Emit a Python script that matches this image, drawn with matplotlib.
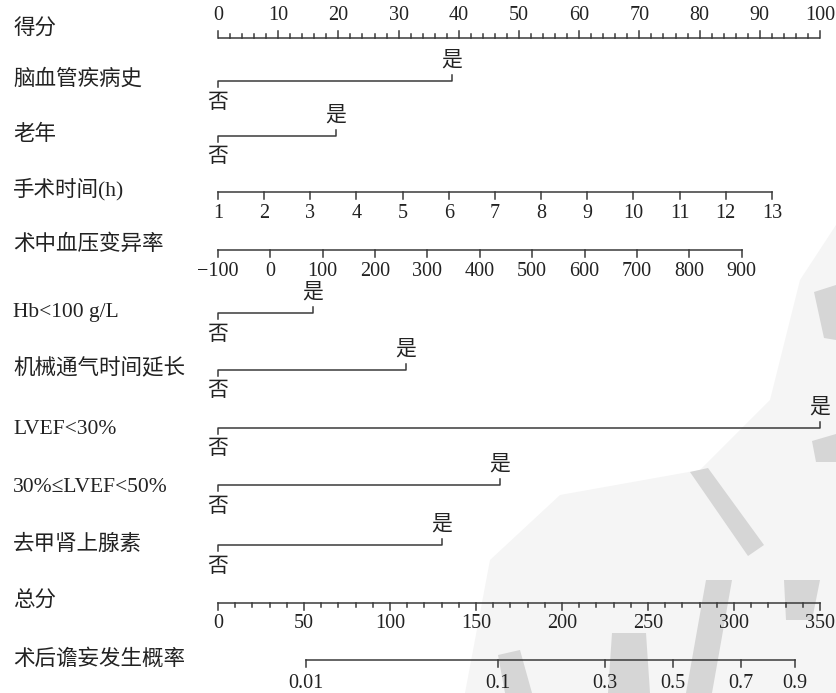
import matplotlib
matplotlib.use("Agg")
import matplotlib.pyplot as plt
import numpy as np

plt.rcParams['font.family'] = ['Liberation Serif', 'Noto Sans CJK SC']

# ---- data -------------------------------------------------------------
row_labels = ["得分", "脑血管疾病史", "老年", "手术时间(h)", "术中血压变异率",
              "Hb<100 g/L", "机械通气时间延长", "LVEF<30%", "30%≤LVEF<50%",
              "去甲肾上腺素", "总分", "术后谵妄发生概率"]

points_ticks = list(range(0, 101, 10))

# binary predictors: points for "是" (the "否" level scores 0)
binary_rows = [1, 2, 5, 6, 7, 8, 9]
binary_points = [38.8, 19.6, 15.8, 31.2, 100.0, 46.8, 37.2]
no_label, yes_label = "否", "是"

# operation time (h)
hours_ticks = list(range(1, 14))
hours_max_points = 92.0

# intraoperative blood pressure variability
bpv_ticks = list(range(-100, 901, 100))
bpv_max_points = 87.0

# total points
total_ticks = list(range(0, 351, 50))
total_max = 350

# risk of postoperative delirium and the total points at each tick
prob_ticks = [0.01, 0.1, 0.3, 0.5, 0.7, 0.9]
prob_tick_total = [51.2, 162.8, 225.0, 264.4, 303.9, 335.2]

# ---- layout -----------------------------------------------------------
W, H = 836, 693
px_per_pt = 6.02
x0_px = 218
row_y = [38, 81, 136, 192, 250, 313, 370, 428, 485, 545, 603, 660]
label_y = [30, 80, 135, 189, 245, 312, 369, 429, 487, 545, 602, 660]

fig = plt.figure(figsize=(W / 100, H / 100), dpi=100)
ax = fig.add_axes([0, 0, 1, 1])
ax.set_xlim(-x0_px / px_per_pt, (W - x0_px) / px_per_pt)
ax.set_ylim(H, 0)
ax.set_axis_off()

LC = "#3a3a3a"
TC = "#222222"
LW = 1.1
FS_NUM = 14.5
FS_CJK = 15
FS_LAB = 15.5


def px(x):
    """pixel column -> points coordinate"""
    return (x - x0_px) / px_per_pt


# faint background brush strokes (publisher watermark)
wm_light = [
    [(836, 225), (800, 280), (770, 400), (700, 470), (560, 495),
     (490, 560), (465, 693), (836, 693)],
]
wm_dark = [
    [(814, 292), (836, 285), (836, 340), (824, 338)],
    [(812, 441), (836, 434), (836, 462), (816, 462)],
    [(690, 472), (708, 468), (764, 545), (748, 556)],
    [(706, 580), (732, 580), (712, 693), (686, 693)],
    [(784, 580), (820, 580), (812, 620), (786, 620)],
    [(498, 655), (520, 650), (532, 693), (505, 693)],
    [(612, 633), (646, 633), (650, 693), (608, 693)],
]
for poly in wm_light:
    xs, ys = zip(*poly)
    ax.fill([px(v) for v in xs], ys, color="#f5f5f5", lw=0, zorder=0)
for poly in wm_dark:
    xs, ys = zip(*poly)
    ax.fill([px(v) for v in xs], ys, color="#d6d6d6", lw=0, zorder=0)

# row labels
for lab, y in zip(row_labels, label_y):
    ax.text(px(13), y, lab, fontsize=FS_LAB, ha="left", va="center", color=TC)

# points scale on top
y = row_y[0]
ax.plot([0, 100], [y, y], color=LC, lw=LW, solid_capstyle="butt")
for v in np.arange(0, 101, 2):
    tl = 7 if v % 10 == 0 else 4
    ax.plot([v, v], [y, y - tl], color=LC, lw=LW)
for v in points_ticks:
    ax.text(v, y - 22, str(v), fontsize=FS_NUM, ha="center", va="center", color=TC)

# binary predictors
for r, p in zip(binary_rows, binary_points):
    y = row_y[r]
    ax.plot([0, 0, p, p], [y + 6, y, y, y - 6], color=LC, lw=LW)
    ax.text(0, y + 22, no_label, fontsize=FS_CJK, ha="center", va="center", color=TC)
    ax.text(p, y - 20, yes_label, fontsize=FS_CJK, ha="center", va="center", color=TC)


def cont_axis(y, values, max_pts, labels):
    lo, hi = values[0], values[-1]
    xs = [(v - lo) / (hi - lo) * max_pts for v in values]
    ax.plot([xs[0], xs[-1]], [y, y], color=LC, lw=LW)
    for x, lab in zip(xs, labels):
        ax.plot([x, x], [y, y + 7], color=LC, lw=LW)
        ax.text(x, y + 22, lab, fontsize=FS_NUM, ha="center", va="center", color=TC)


cont_axis(row_y[3], hours_ticks, hours_max_points, [str(v) for v in hours_ticks])
cont_axis(row_y[4], bpv_ticks, bpv_max_points,
          [("\u2212" + str(-v)) if v < 0 else str(v) for v in bpv_ticks])

# total points scale
y = row_y[10]
scale = 100 / total_max
ax.plot([0, 100], [y, y], color=LC, lw=LW)
for v in range(0, total_max + 1, 10):
    tl = 7 if v % 50 == 0 else 4
    ax.plot([v * scale, v * scale], [y, y + tl], color=LC, lw=LW)
for v in total_ticks:
    ax.text(v * scale, y + 21, str(v), fontsize=FS_NUM, ha="center", va="center", color=TC)

# probability scale
y = row_y[11]
pxs = [t * scale for t in prob_tick_total]
ax.plot([pxs[0], pxs[-1]], [y, y], color=LC, lw=LW)
for x, p in zip(pxs, prob_ticks):
    ax.plot([x, x], [y, y + 7], color=LC, lw=LW)
    ax.text(x, y + 23, f"{p:g}", fontsize=FS_NUM, ha="center", va="center", color=TC)

fig.savefig("out.png", dpi=100)
